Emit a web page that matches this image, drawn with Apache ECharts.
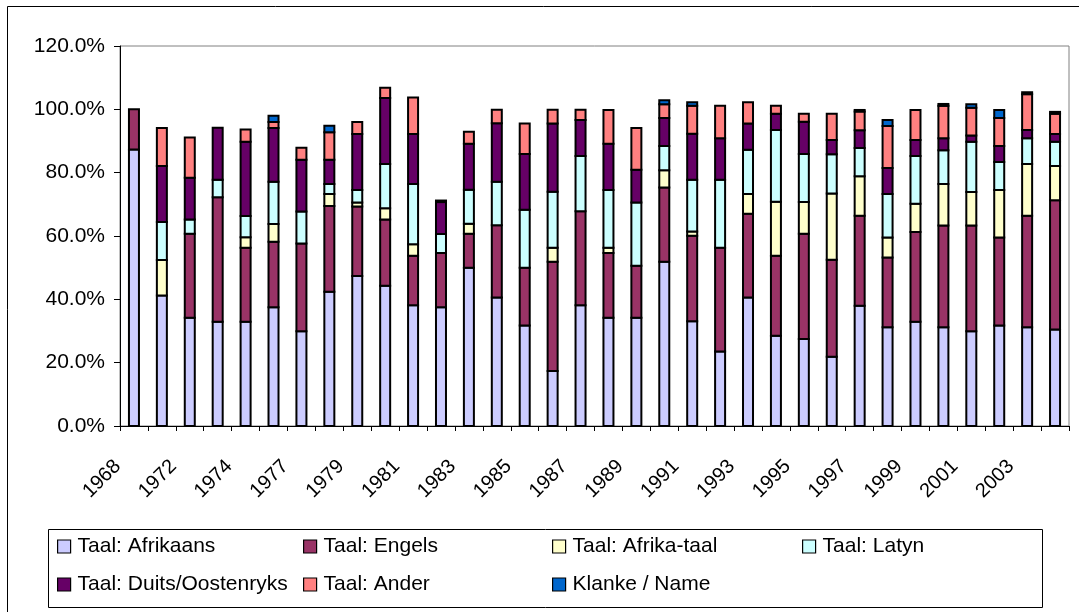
<!DOCTYPE html>
<html>
<head>
<meta charset="utf-8">
<script src="https://cdn.jsdelivr.net/npm/echarts@6/dist/echarts.min.js"></script>
<style>
html,body{margin:0;padding:0;background:#fff;}
#chart{width:1079px;height:612px;}
</style>
</head>
<body>
<div id="chart"></div>
<script>
const categories = ['1968','1970','1972','1973','1974','1976','1977','1978','1979','1980','1981','1982','1983','1984','1985','1986','1987','1988','1989','1990','1991','1992','1993','1994','1995','1996','1997','1998','1999','2000','2001','2002','2003','2004'];
const afrikaans = [87.3, 41.2, 34.2, 32.9, 32.9, 37.5, 29.9, 42.4, 47.4, 44.3, 38.1, 37.5, 50.0, 40.6, 31.7, 17.4, 38.1, 34.2, 34.2, 51.9, 33.1, 23.5, 40.6, 28.5, 27.5, 21.9, 38.0, 31.2, 32.9, 31.2, 29.9, 31.7, 31.2, 30.5];
const engels = [12.7, 0, 26.5, 39.3, 23.4, 20.7, 27.7, 27.1, 21.9, 20.9, 15.7, 17.1, 10.7, 22.8, 18.3, 34.5, 29.7, 20.4, 16.4, 23.4, 27.0, 32.8, 26.4, 25.3, 33.2, 30.6, 28.4, 22.0, 28.4, 32.1, 33.4, 27.8, 35.2, 40.8];
const afrikaTaal = [0, 11.2, 0, 0, 3.3, 5.6, 0, 3.8, 1.3, 3.6, 3.6, 0, 3.2, 0, 0, 4.4, 0, 1.7, 0, 5.5, 1.3, 0, 6.3, 17.0, 10.0, 20.9, 12.5, 6.3, 8.9, 13.1, 10.6, 15.0, 16.3, 10.8];
const latyn = [0, 12.0, 4.5, 5.6, 6.7, 13.3, 10.1, 3.1, 3.9, 13.9, 19.0, 6.0, 10.7, 13.7, 18.3, 17.7, 17.5, 18.2, 20.0, 7.6, 16.4, 21.5, 13.9, 22.7, 15.2, 12.4, 8.9, 13.8, 15.1, 10.7, 15.9, 8.9, 8.2, 7.7];
const duits = [0, 17.7, 13.2, 16.4, 23.5, 17.0, 16.4, 7.7, 17.7, 20.9, 15.8, 10.1, 14.5, 18.5, 17.6, 21.5, 11.3, 14.6, 10.3, 8.9, 14.5, 13.1, 8.3, 5.1, 10.2, 4.5, 5.6, 8.2, 5.0, 3.8, 1.9, 5.0, 2.6, 2.4];
const ander = [0, 12.0, 12.7, 0, 3.8, 1.9, 3.8, 8.7, 3.8, 3.2, 11.5, 0.5, 3.8, 4.3, 9.6, 4.4, 3.3, 10.7, 13.2, 4.3, 8.8, 10.2, 6.7, 2.5, 2.5, 8.3, 5.9, 13.2, 9.5, 10.2, 8.8, 8.9, 11.3, 6.4];
const klanke = [0, 0, 0, 0, 0, 2.0, 0, 2.0, 0, 0, 0, 0, 0, 0, 0, 0, 0, 0, 0, 1.3, 1.1, 0, 0, 0, 0, 0, 0.5, 1.9, 0, 0.6, 1.1, 2.5, 0.6, 0.6];
const yTicks = [0, 20, 40, 60, 80, 100, 120];

const seriesDefs = [
  {name: 'Taal: Afrikaans', data: afrikaans, color: '#CCCCFF'},
  {name: 'Taal: Engels', data: engels, color: '#993366'},
  {name: 'Taal: Afrika-taal', data: afrikaTaal, color: '#FFFFCC'},
  {name: 'Taal: Latyn', data: latyn, color: '#CCFFFF'},
  {name: 'Taal: Duits/Oostenryks', data: duits, color: '#660066'},
  {name: 'Taal: Ander', data: ander, color: '#FF8080'},
  {name: 'Klanke / Name', data: klanke, color: '#0066CC'}
];

const legendPos = [
  [57, 536], [303, 536], [552, 536], [802, 536],
  [57, 574], [303, 574], [552, 574]
];

// stacked table built from the arrays: [categoryIndex, base, top]
const running = categories.map(() => 0);
const stackedTables = seriesDefs.map(s => s.data.map((v, i) => {
  const base = running[i];
  running[i] = base + v;
  return [i, base, running[i]];
}));

const chart = echarts.init(document.getElementById('chart'), null, {renderer: 'canvas'});
const FONT = 'Liberation Sans, Arial, sans-serif';
const BAR_W = 10;

function makeRender(color) {
  return function (params, api) {
    const lo = api.value(1), hi = api.value(2);
    if (!(hi - lo > 0)) return null;
    const p0 = api.coord([api.value(0), lo]);
    const p1 = api.coord([api.value(0), hi]);
    return {
      type: 'rect',
      shape: {x: p0[0] - BAR_W / 2, y: p1[1], width: BAR_W, height: p0[1] - p1[1]},
      style: {fill: color, stroke: '#000', lineWidth: 2}
    };
  };
}

const option = {
  animation: false,
  backgroundColor: '#fff',
  grid: {left: 120, right: 10, top: 46, bottom: 186, show: true, borderColor: '#808080', borderWidth: 1, containLabel: false},
  legend: seriesDefs.map((s, i) => ({
    data: [s.name],
    left: legendPos[i][0], top: legendPos[i][1],
    padding: 0, itemWidth: 13, itemHeight: 13, icon: 'rect',
    textStyle: {fontFamily: FONT, fontSize: 21, color: '#000', padding: [0, 0, 0, 2]},
    itemStyle: {color: s.color, borderColor: '#000', borderWidth: 1.2}
  })),
  xAxis: {
    type: 'category', data: categories,
    axisLine: {lineStyle: {color: '#000', width: 1}},
    axisTick: {show: true, interval: 0, length: 5, lineStyle: {color: '#000'}},
    axisLabel: {interval: 1, rotate: 45, fontFamily: FONT, fontSize: 20, color: '#000', margin: 21, padding: [0, 23, 0, 0]}
  },
  yAxis: {
    type: 'value', min: yTicks[0], max: yTicks[yTicks.length - 1], interval: yTicks[1] - yTicks[0],
    splitLine: {show: false},
    axisLine: {show: true, lineStyle: {color: '#000', width: 1}},
    axisTick: {show: true, length: 6, lineStyle: {color: '#000'}},
    axisLabel: {formatter: v => v.toFixed(1) + '%', fontFamily: FONT, fontSize: 21, color: '#000', margin: 15}
  },
  series: seriesDefs.map((s, k) => ({
    name: s.name, type: 'custom',
    data: stackedTables[k],
    encode: {x: 0, y: [1, 2]},
    itemStyle: {color: s.color},
    renderItem: makeRender(s.color)
  })),
  graphic: [
    {type: 'rect', shape: {x: 7.5, y: 6.5, width: 1100, height: 700}, style: {fill: 'none', stroke: '#000', lineWidth: 1}, silent: true},
    {type: 'rect', shape: {x: 48.5, y: 529.5, width: 994, height: 78}, style: {fill: 'none', stroke: '#000', lineWidth: 1}, silent: true}
  ]
};
chart.setOption(option);
</script>
</body>
</html>
